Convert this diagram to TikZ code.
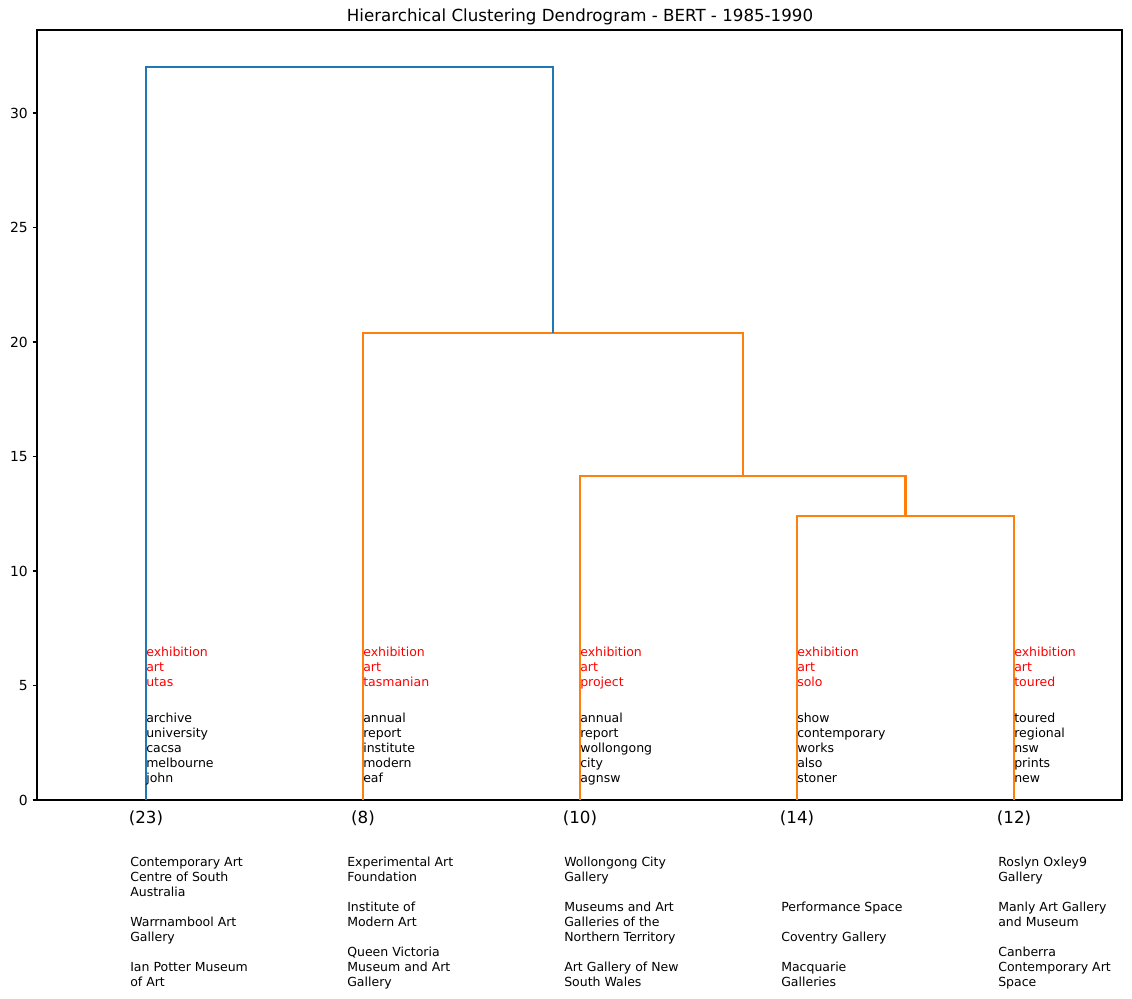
\documentclass[tikz,border=0pt]{standalone}
\usepackage{fontspec}
\setmainfont{DejaVu Sans}
\definecolor{mplblue}{HTML}{1F77B4}
\definecolor{mplorange}{HTML}{FF7F0E}

\begin{document}
\begin{tikzpicture}[x=0.72pt,y=-0.72pt,
  link/.style={line width=1.5pt},
  tick label/.style={anchor=east,inner sep=0pt,font=\fontsize{10}{12}\selectfont},
  count label/.style={inner sep=0pt,font=\fontsize{12}{14.4}\selectfont},
  topic words/.style={anchor=north west,inner sep=0pt,align=left,text=red,font=\fontsize{9}{10.8}\selectfont},
  key words/.style={anchor=north west,inner sep=0pt,align=left,font=\fontsize{9}{10.8}\selectfont},
  gallery list/.style={anchor=north west,inner sep=0pt,align=left,font=\fontsize{9}{10.8}\selectfont}]

  \useasboundingbox (0,0) rectangle (1132,998);

  % axes
  \draw[line width=0.8pt] (37,30) rectangle (1122,800);
  \foreach \v/\yy in {0/800,5/685.5,10/571,15/456.5,20/342,25/227.5,30/113}{
    \draw[line width=0.8pt] (32.5,\yy) -- (37,\yy);
    \node[tick label] (t\v) at (28,\yy) {\v};
  }
  \node[anchor=base,inner sep=0pt,font=\fontsize{12}{14.4}\selectfont] (title) at (580,21.5)
    {Hierarchical Clustering Dendrogram - BERT - 1985-1990};

  % leaves and merges
  \coordinate (l1) at (146,800);
  \coordinate (l2) at (363,800);
  \coordinate (l3) at (580,800);
  \coordinate (l4) at (797,800);
  \coordinate (l5) at (1014,800);
  \coordinate (m1) at (905.5,516);
  \coordinate (m2) at (742.75,476);
  \coordinate (m3) at (552.9,333);
  \coordinate (m4) at (349.5,67);

  \draw[link,mplorange] (l4) |- (m1) -| (l5);
  \draw[link,mplorange] (l3) |- (m2) -| (m1);
  \draw[link,mplorange] (l2) |- (m3) -| (m2);
  \draw[link,mplblue] (l1) |- (m4) -| (m3);

  % cluster sizes
  \node[count label] (c1) at (146,818) {(23)};
  \node[count label] (c2) at (363,818) {(8)};
  \node[count label] (c3) at (580,818) {(10)};
  \node[count label] (c4) at (797,818) {(14)};
  \node[count label] (c5) at (1014,818) {(12)};

  % topic words
  \node[topic words] (w1) at (146,646.5) {exhibition\\art\\utas};
  \node[topic words] (w2) at (363,646.5) {exhibition\\art\\tasmanian};
  \node[topic words] (w3) at (580,646.5) {exhibition\\art\\project};
  \node[topic words] (w4) at (797,646.5) {exhibition\\art\\solo};
  \node[topic words] (w5) at (1014,646.5) {exhibition\\art\\toured};

  \node[key words] (k1) at (146,712.5) {archive\\university\\cacsa\\melbourne\\john};
  \node[key words] (k2) at (363,712.5) {annual\\report\\institute\\modern\\eaf};
  \node[key words] (k3) at (580,712.5) {annual\\report\\wollongong\\city\\agnsw};
  \node[key words] (k4) at (797,712.5) {show\\contemporary\\works\\also\\stoner};
  \node[key words] (k5) at (1014,712.5) {toured\\regional\\nsw\\prints\\new};

  % galleries
  \node[gallery list] (g1) at (130,856.5) {Contemporary Art\\Centre of South\\Australia\\[10.8pt]Warrnambool Art\\Gallery\\[10.8pt]Ian Potter Museum\\of Art};
  \node[gallery list] (g2) at (347,856.5) {Experimental Art\\Foundation\\[10.8pt]Institute of\\Modern Art\\[10.8pt]Queen Victoria\\Museum and Art\\Gallery};
  \node[gallery list] (g3) at (564,856.5) {Wollongong City\\Gallery\\[10.8pt]Museums and Art\\Galleries of the\\Northern Territory\\[10.8pt]Art Gallery of New\\South Wales};
  \node[gallery list] (g4) at (781,901.5) {Performance Space\\[10.8pt]Coventry Gallery\\[10.8pt]Macquarie\\Galleries};
  \node[gallery list] (g5) at (998,856.5) {Roslyn Oxley9\\Gallery\\[10.8pt]Manly Art Gallery\\and Museum\\[10.8pt]Canberra\\Contemporary Art\\Space};
\end{tikzpicture}
\end{document}
